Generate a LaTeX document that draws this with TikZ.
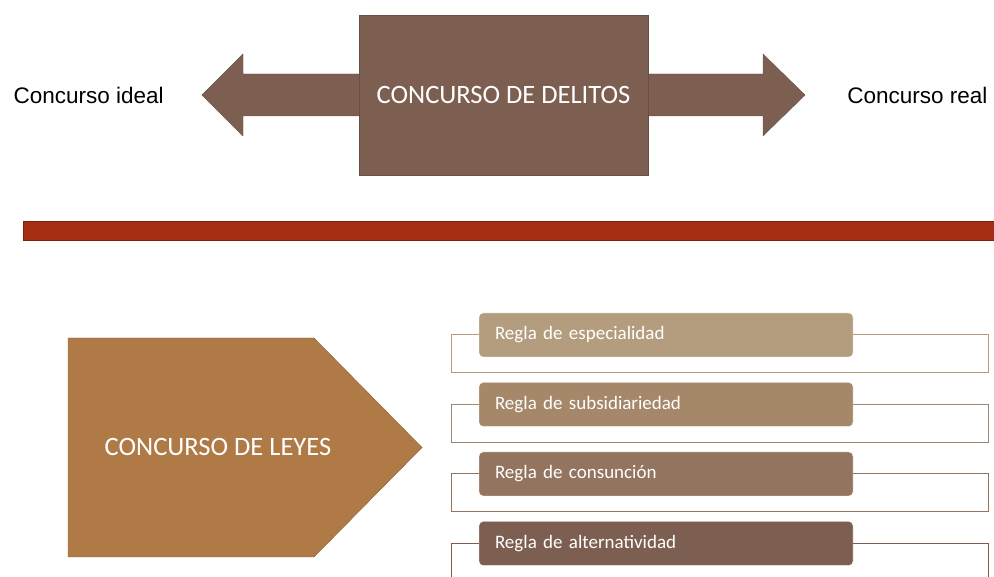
\documentclass[tikz,border=0pt]{standalone}
\usepackage{fontspec}
\setmainfont{Carlito}
\newfontfamily\arialfont{Liberation Sans}
\usepackage{xcolor}
\usetikzlibrary{positioning}

\begin{document}
\begin{tikzpicture}[x=1pt,y=1pt,node distance=69.5pt]
    \definecolor{mybrown}{RGB}{125,95,81}
    \definecolor{mybrownd}{RGB}{105,78,66}
    \definecolor{myred}{RGB}{165,47,16}
    \definecolor{myredd}{RGB}{120,35,12}
    \definecolor{myochre}{RGB}{176,122,71}
    \definecolor{myochred}{RGB}{140,96,56}
    \definecolor{rulea}{RGB}{180,157,126}
    \definecolor{ruleb}{RGB}{165,135,106}
    \definecolor{rulec}{RGB}{147,117,95}
    \definecolor{ruled}{RGB}{125,95,81}

    \tikzstyle{side}=[font=\arialfont\fontsize{22.5pt}{26pt}\selectfont,text=black]  % textos laterales
    \tikzstyle{big}=[font=\fontsize{26.5pt}{30pt}\selectfont,text=white]
    \tikzstyle{rule}=[rectangle,rounded corners=4pt,draw=white,thin,text=white,
        text width=342pt,inner xsep=16pt,inner ysep=0pt,minimum height=44pt,align=left,
        font=\fontsize{19pt}{22pt}\selectfont]
    \tikzstyle{frame}=[line width=1pt]

    \clip (0,0) rectangle (994,577);

    % flecha doble con el cuadro central
    \fill[mybrown,draw=mybrownd,thin] (202,482) -- (243,523) -- (243,503) -- (763,503) -- (763,523)
        -- (805,482) -- (763,441) -- (763,461) -- (243,461) -- (243,441) -- cycle;
    \node[rectangle,fill=mybrown,draw=mybrownd,thin,minimum width=289pt,minimum height=160pt,
        big](delitos) at (503.5,482){CONCURSO DE DELITOS};
    \node[side,anchor=west](ideal) at (10,482){Concurso ideal};
    \node[side,anchor=east](real) at (991,482){Concurso real};

    % barra
    \fill[myred,draw=myredd,thin] (23,337) rectangle (1000,356);

    % pentagono
    \filldraw[fill=myochre,draw=myochred,thin] (68,239) -- (314,239) -- (422,129.5) -- (314,20) -- (68,20) -- cycle;
    \node[big](leyes) at (218,129.5){CONCURSO DE LEYES};

    % reglas
    \node[rule,fill=rulea](r1) at (666,242){Regla de especialidad};
    \node[rule,fill=ruleb,below of=r1](r2){Regla de subsidiariedad};
    \node[rule,fill=rulec,below of=r2](r3){Regla de consunción};
    \node[rule,fill=ruled,below of=r3](r4){Regla de alternatividad};
    \draw[frame,rulea] (r1.west) -| ([xshift=-27pt,yshift=-38pt]r1.west) -| ([xshift=135pt]r1.east) -- (r1.east);
    \draw[frame,ruleb] (r2.west) -| ([xshift=-27pt,yshift=-38pt]r2.west) -| ([xshift=135pt]r2.east) -- (r2.east);
    \draw[frame,rulec] (r3.west) -| ([xshift=-27pt,yshift=-38pt]r3.west) -| ([xshift=135pt]r3.east) -- (r3.east);
    \draw[frame,ruled] (r4.west) -| ([xshift=-27pt,yshift=-38pt]r4.west) -| ([xshift=135pt]r4.east) -- (r4.east);
\end{tikzpicture}
\end{document}
